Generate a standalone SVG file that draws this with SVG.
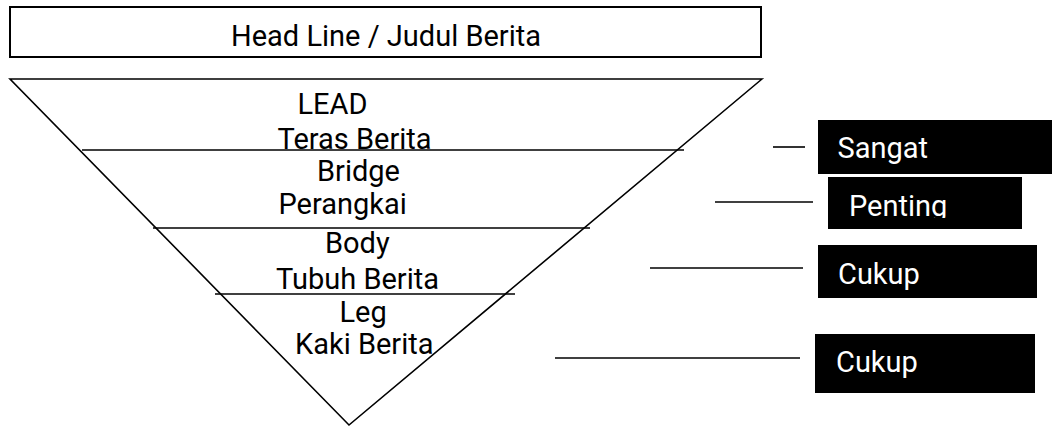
<svg xmlns="http://www.w3.org/2000/svg" width="1052" height="427" viewBox="0 0 1052 427">
<style>
.t{font-family:Roboto,"Liberation Sans",sans-serif;font-size:29px;fill:#000}
.w{font-family:Roboto,"Liberation Sans",sans-serif;font-size:29px;fill:#fff}
.ln{stroke:#000;stroke-width:1.6;fill:none}
.bx{fill:#000}
</style>
<defs>
<clipPath id="cp"><rect x="830" y="177" width="192" height="41"/></clipPath>
</defs>
<g id="headline">
<rect x="10" y="7" width="751" height="50" fill="#fff" stroke="#000" stroke-width="2"/>
<text class="t" x="231" y="46">Head Line / Judul Berita</text>
</g>
<g id="pyramid">
<path class="ln" d="M10 79 L762 79 L349 425 Z"/>
<text class="t" x="297.5" y="113.5">LEAD</text>
<text class="t" x="277.5" y="148.5">Teras Berita</text>
<text class="t" x="317" y="181">Bridge</text>
<text class="t" x="278.5" y="214">Perangkai</text>
<text class="t" x="325" y="252.5">Body</text>
<text class="t" x="276" y="288.5">Tubuh Berita</text>
<text class="t" x="339.5" y="322">Leg</text>
<text class="t" x="295" y="354">Kaki Berita</text>
</g>
<g id="connectors">
<line class="ln" x1="82" y1="150" x2="684" y2="150"/>
<line class="ln" x1="153" y1="228" x2="590" y2="228"/>
<line class="ln" x1="215" y1="294" x2="515" y2="294"/>
<line class="ln" x1="773" y1="147" x2="805" y2="147"/>
<line class="ln" x1="715" y1="202" x2="813" y2="202"/>
<line class="ln" x1="650" y1="268" x2="803" y2="268"/>
<line class="ln" x1="555" y1="358" x2="800" y2="358"/>
</g>
<g id="sangat">
<rect class="bx" x="818" y="120" width="234" height="54"/>
<text class="w" x="837.5" y="157.5">Sangat</text>
</g>
<g id="penting">
<rect class="bx" x="828" y="177" width="194" height="52"/>
<g clip-path="url(#cp)"><text class="w" x="849" y="215.5">Penting</text></g>
</g>
<g id="cukup1">
<rect class="bx" x="818" y="245" width="219" height="53"/>
<text class="w" x="838" y="284">Cukup</text>
</g>
<g id="cukup2">
<rect class="bx" x="815" y="334" width="220" height="59"/>
<text class="w" x="836" y="371.5">Cukup</text>
</g>
</svg>
